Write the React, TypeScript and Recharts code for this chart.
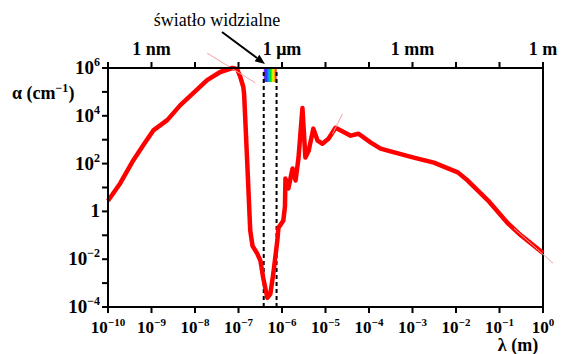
import { Line, LineChart, ReferenceArea, ReferenceLine, XAxis, YAxis } from "recharts";

const SERIF = "'Liberation Serif', 'Times New Roman', serif";
const bold = { fontFamily: SERIF, fontWeight: 700 };

// wavelength (m) and absorption coefficient (cm^-1)
const lambda = [
  1e-10, 1.9e-10, 3.8e-10, 6.4e-10, 1.1e-9, 2.3e-9, 4.6e-9, 9.1e-9, 1.9e-8, 3.8e-8,
  7.2e-8, 9.3e-8, 1.1e-7, 1.29e-7, 1.35e-7, 1.58e-7, 1.86e-7, 2.1e-7, 2.7e-7, 3.2e-7,
  3.7e-7, 4.6e-7, 5.4e-7, 6.3e-7, 7.8e-7, 8.3e-7, 1.07e-6, 1.17e-6, 1.2e-6, 1.4e-6,
  1.75e-6, 2.05e-6, 2.4e-6, 2.95e-6, 3.45e-6, 4.1e-6, 5.25e-6, 6.6e-6, 8.5e-6, 1.17e-5,
  1.7e-5, 3.8e-5, 5.75e-5, 1.1e-4, 1.85e-4, 2.7e-4, 1.07e-3, 3.1e-3, 0.011, 0.0186,
  0.054, 0.155, 0.31, 1,
];
const alpha = [
  2.8, 14.8, 135, 575, 2450, 6600, 2.8e4, 8.9e4, 3.1e5, 6.8e5,
  1e6, 9.1e5, 4.2e5, 1.6e5, 7.4e4, 135, 0.16, 0.036, 0.017, 0.0085,
  0.00166, 2.4e-4, 3.5e-4, 0.00245, 0.059, 0.21, 0.41, 1.6, 23.7, 9.1,
  62, 19.5, 178, 2.1e4, 178, 347, 2900, 910, 676, 1100,
  3160, 1480, 1780, 750, 420, 347, 178, 110, 43, 19.5,
  2.9, 0.32, 0.1, 0.018,
];

const xTicks = [1e-10, 1e-9, 1e-8, 1e-7, 1e-6, 1e-5, 1e-4, 1e-3, 1e-2, 1e-1, 1];
const yTicks = [1e-4, 1e-3, 1e-2, 1e-1, 1, 10, 100, 1e3, 1e4, 1e5, 1e6];
const topLabels: Record<number, string> = { [-9]: "1 nm", [-6]: "1 μm", [-3]: "1 mm", 0: "1 m" };
const visibleBand = [3.8e-7, 7.5e-7];

// faint fit lines drawn over the curve
const fitLines = [
  [{ x: 1.9e-8, y: 4.2e6 }, { x: 2.45e-7, y: 2.37e5 }],
  [{ x: 1.45e-5, y: 1740 }, { x: 2.45e-5, y: 1.2e4 }],
  [{ x: 0.214, y: 0.195 }, { x: 1.7, y: 0.0068 }],
];

const data = lambda.map((l, i) => ({ lambda: l, alpha: alpha[i] }));

const exp = (v: number) => Math.round(Math.log10(v));
const sup = (e: number) => (e < 0 ? "\u2212" + -e : String(e));

function BottomTick({ x, y, payload }: any) {
  const e = exp(payload.value);
  return (
    <text x={x} y={y} dy={18} textAnchor="middle" style={bold} fontSize={17} fill="#000">
      10
      <tspan dy={-7} fontSize={11}>
        {sup(e)}
      </tspan>
    </text>
  );
}

function LeftTick({ x, y, payload }: any) {
  const e = exp(payload.value);
  if (e % 2 !== 0) return <g />;
  return (
    <text x={x} y={y} dy={6} textAnchor="end" style={bold} fontSize={19} fill="#000">
      {e === 0 ? (
        "1"
      ) : (
        <>
          10
          <tspan dy={-8} fontSize={12}>
            {sup(e)}
          </tspan>
        </>
      )}
    </text>
  );
}

function TopTick({ x, y, payload }: any) {
  const label = topLabels[exp(payload.value)];
  if (!label) return <g />;
  return (
    <text x={x} y={y} dy={-5} textAnchor="middle" style={bold} fontSize={18} fill="#000">
      {label}
    </text>
  );
}

export default function App() {
  const axis = { stroke: "#000", strokeWidth: 2 };
  return (
    <div style={{ position: "absolute", left: 0, top: 0, width: 561, height: 354, background: "#fff" }}>
      <LineChart width={561} height={354} data={data} margin={{ top: 38, right: 18, bottom: 0, left: 0 }}>
        <defs>
          <linearGradient id="rainbow" x1="0" y1="0" x2="1" y2="0">
            <stop offset="0%" stopColor="#9b30ff" />
            <stop offset="20%" stopColor="#3030ff" />
            <stop offset="40%" stopColor="#00b0ff" />
            <stop offset="55%" stopColor="#00e000" />
            <stop offset="72%" stopColor="#ffff00" />
            <stop offset="86%" stopColor="#ff9000" />
            <stop offset="100%" stopColor="#ff0000" />
          </linearGradient>
        </defs>
        <XAxis
          dataKey="lambda"
          type="number"
          scale="log"
          domain={[1e-10, 1]}
          ticks={xTicks}
          interval={0}
          height={47}
          axisLine={axis}
          tickLine={axis}
          tickSize={6}
          tick={<BottomTick />}
        />
        <XAxis
          xAxisId="top"
          orientation="top"
          dataKey="lambda"
          type="number"
          scale="log"
          domain={[1e-10, 1]}
          ticks={xTicks}
          interval={0}
          height={30}
          axisLine={axis}
          tickLine={axis}
          tickSize={6}
          tick={<TopTick />}
        />
        <YAxis
          type="number"
          scale="log"
          domain={[1e-4, 1e6]}
          ticks={yTicks}
          interval={0}
          width={108}
          axisLine={axis}
          tickLine={axis}
          tickSize={6}
          tick={<LeftTick />}
        />
        <ReferenceLine x={1} stroke="#000" strokeWidth={2} />
        {visibleBand.map((v) => (
          <ReferenceLine key={v} x={v} stroke="#000" strokeWidth={2} strokeDasharray="4 3" />
        ))}
        <Line
          dataKey="alpha"
          type="linear"
          stroke="#ff0000"
          strokeWidth={4.5}
          strokeLinejoin="round"
          dot={false}
          isAnimationActive={false}
        />
        {fitLines.map((seg, i) => (
          <ReferenceLine key={i} segment={seg} stroke="#f6a0a0" strokeWidth={1} ifOverflow="visible" />
        ))}
        <ReferenceArea
          x1={visibleBand[0]}
          x2={visibleBand[1]}
          y1={2.6e5}
          y2={1e6}
          fill="url(#rainbow)"
          fillOpacity={1}
          stroke="none"
        />
      </LineChart>
      <svg width={561} height={354} style={{ position: "absolute", left: 0, top: 0, pointerEvents: "none" }}>
        <text x={217} y={26} textAnchor="middle" style={{ fontFamily: SERIF }} fontSize={18} fill="#000">
          światło widzialne
        </text>
        <line x1={222} y1={32} x2={257} y2={58} stroke="#000" strokeWidth={2} />
        <polygon points="265,64 254.6,61.2 259.4,54.8" fill="#000" />
        <text x={12} y={99} style={bold} fontSize={18} fill="#000">
          α (cm<tspan dy={-7} fontSize={12}>{"\u22121"}</tspan>
          <tspan dy={7}>)</tspan>
        </text>
        <text x={518} y={351} textAnchor="middle" style={bold} fontSize={18} fill="#000">
          λ (m)
        </text>
      </svg>
    </div>
  );
}
